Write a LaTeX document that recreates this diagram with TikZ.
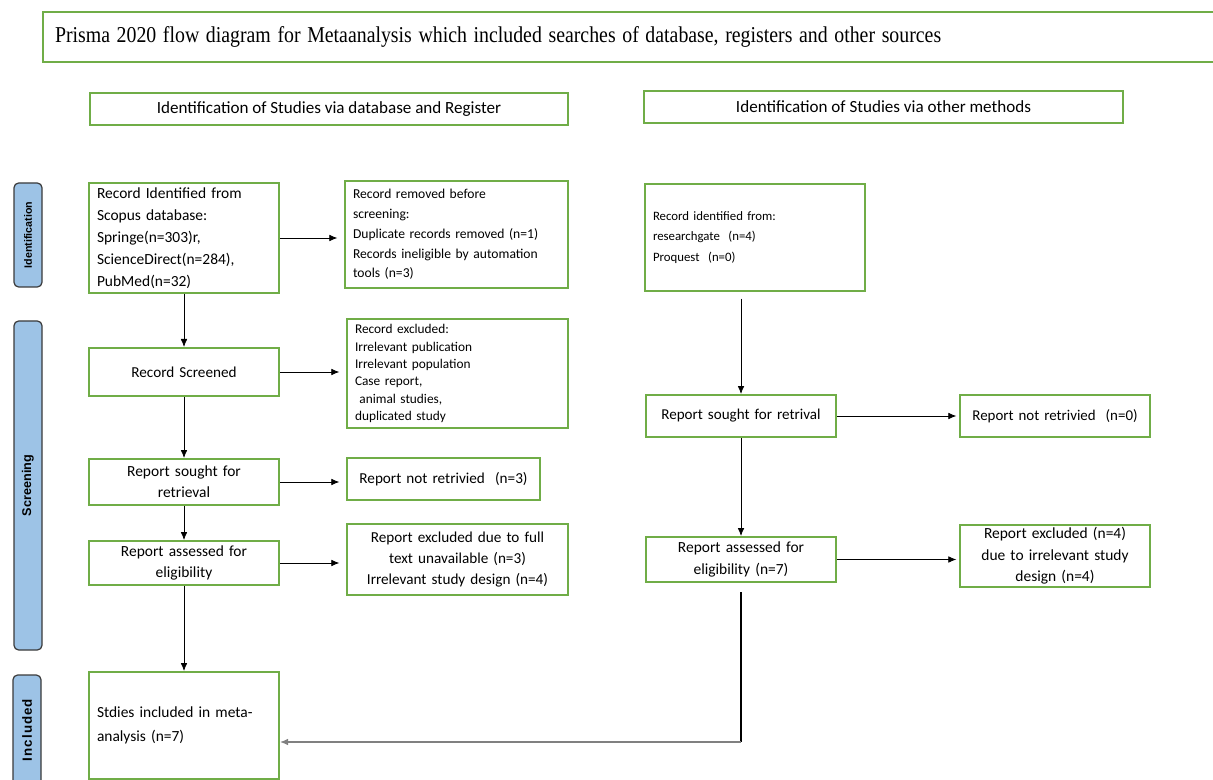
\documentclass[tikz,border=0pt]{standalone}
\usepackage{fontspec}
\setmainfont{Carlito}
\newfontfamily\titlefont{Liberation Serif}
\newfontfamily\sidefont{Liberation Sans}
\usetikzlibrary{arrows.meta,positioning}
\definecolor{prgreen}{HTML}{70AD47}
\definecolor{prblue}{HTML}{9DC3E6}
\definecolor{prborder}{HTML}{3A3A3A}
\newcommand{\fsz}[2]{\fontsize{#1}{#2}\selectfont}
\tikzset{
  gbox/.style={draw=prgreen,line width=1.5pt,fill=white,inner xsep=6pt,inner ysep=1pt},
  hdrbox/.style={gbox,minimum height=24pt,font=\fsz{12.8}{14}},
  sidebox/.style={draw=prborder,fill=prblue,line width=0.9pt,rounded corners=3.5pt,
    rotate=90,minimum height=21pt,inner sep=0pt,font=\sidefont\bfseries},
  flow/.style={line width=0.6pt,-{Latex[length=6pt,width=5pt]}},
}

\begin{document}
\begin{tikzpicture}[x=0.75pt,y=0.75pt,yscale=-1,xscale=1]
\useasboundingbox (0,0) rectangle (1213,780);

% Title
\node[gbox,inner xsep=9pt,text width=861.75pt,minimum height=37.5pt,align=left,
  font=\titlefont\fsz{17}{19}] (title) at (629.5,37)
  {\scalebox{0.875}[1]{Prisma 2020 flow diagram for Metaanalysis which included searches of database, registers and other sources}};

% Column headers
\node[hdrbox,minimum width=358.5pt] (hdrL) at (329,109) {Identification of Studies via database and Register};
\node[hdrbox,minimum width=359.25pt] (hdrR) at (883.5,107) {Identification of Studies via other methods};

% Side labels
\node[sidebox,minimum width=78pt,font=\sidefont\bfseries\fsz{8}{9}] (sideId) at (28,235) {Identification};
\node[sidebox,minimum width=246.75pt,font=\sidefont\bfseries\fsz{9.5}{10}] (sideSc) at (28,485.5) {Screening};
\node[sidebox,minimum width=82.5pt,font=\sidefont\bfseries\fsz{10}{11}\addfontfeature{LetterSpace=8}] (sideIn) at (27,730) {Included};

% Left column
\node[gbox,text width=130.5pt,minimum height=82.5pt,align=left,font=\fsz{11.6}{16.5}] (A1) at (184,238)
  {Record Identified from\\Scopus database:\\Springe(n=303)r,\\ScienceDirect(n=284),\\PubMed(n=32)};
\node[gbox,text width=155.25pt,minimum height=80.25pt,align=left,font=\fsz{10.2}{14.8}] (A2) at (456.5,234.5)
  {Record removed before\\screening:\\Duplicate records removed (n=1)\\Records ineligible by automation\\tools (n=3)};
\node[gbox,text width=130.5pt,minimum height=36pt,align=center,font=\fsz{11.4}{16}] (B1) at (184,372)
  {Record Screened};
\node[gbox,text width=153.75pt,minimum height=81.75pt,align=left,font=\fsz{10}{13}] (B2) at (457.5,373.5)
  {Record excluded:\\Irrelevant publication\\Irrelevant population\\Case report,\\\ animal studies,\\duplicated study};
\node[gbox,text width=130.5pt,minimum height=34.5pt,align=center,font=\fsz{11.6}{16}] (C1) at (184,482)
  {Report sought for\\retrieval};
\node[gbox,text width=132.75pt,minimum height=31.5pt,align=center,font=\fsz{11.4}{12}] (C2) at (443.5,479)
  {Report not retrivied\ \ (n=3)};
\node[gbox,text width=130.5pt,minimum height=33pt,align=center,font=\fsz{11.6}{16}] (D1) at (184,563)
  {Report assessed for\\eligibility};
\node[gbox,text width=153.75pt,minimum height=53.25pt,align=center,font=\fsz{11.4}{16}] (D2) at (457.5,559.5)
  {Report excluded due to full\\text unavailable (n=3)\\Irrelevant study design (n=4)};
\node[gbox,text width=130.5pt,minimum height=80.25pt,align=left,font=\fsz{11.6}{18}] (E1) at (184,725.5)
  {Stdies included in meta-\\analysis (n=7)};

% Right column
\node[gbox,text width=153pt,minimum height=80.25pt,align=left,font=\fsz{9.6}{15.4}] (R1) at (755,237.5)
  {Record identified from:\\researchgate\ \ (n=4)\\Proquest\ \ (n=0)};
\node[gbox,text width=130.5pt,minimum height=31.5pt,align=center,font=\fsz{11.3}{12}] (R2) at (741,416)
  {Report sought for retrival};
\node[gbox,text width=130.5pt,minimum height=31.5pt,align=center,font=\fsz{11.2}{12}] (R3) at (1055,416)
  {Report not retrivied\ \ (n=0)};
\node[gbox,text width=130.5pt,minimum height=33.75pt,align=center,font=\fsz{11.6}{16}] (R4) at (741,559.5)
  {Report assessed for\\eligibility (n=7)};
\node[gbox,text width=130.5pt,minimum height=46.5pt,align=center,font=\fsz{11.6}{16}] (R5) at (1055,556)
  {Report excluded (n=4)\\due to irrelevant study\\design (n=4)};

% Connectors, left
\draw[flow] (A1) -- (B1);
\draw[flow] (B1) -- (C1);
\draw[flow] (C1) -- (D1);
\draw[flow] (D1) -- (E1);
\draw[flow,shorten >=5pt] (A1.east) -- (A1.east -| A2.west);
\draw[flow,shorten >=5pt] (B1.east) -- (B1.east -| B2.west);
\draw[flow,shorten >=5pt] (C1.east) -- (C1.east -| C2.west);
\draw[flow,shorten >=5pt] (D1.east) -- (D1.east -| D2.west);

% Connectors, right
\draw[flow,shorten <=5pt] (R2.north |- R1.south) -- (R2.north);
\draw[flow] (R2) -- (R4);
\draw[flow,shorten >=2pt] (R2) -- (R3);
\draw[flow,shorten >=2pt] (R4.east) -- (R4.east -| R5.west);
\coordinate (turn) at (741,742);
\draw[line width=1.4pt,shorten <=7pt] (R4.south) -- (turn);
\draw[flow,draw=gray,line width=1pt] (turn) -- (turn -| E1.east);

\end{tikzpicture}
\end{document}
